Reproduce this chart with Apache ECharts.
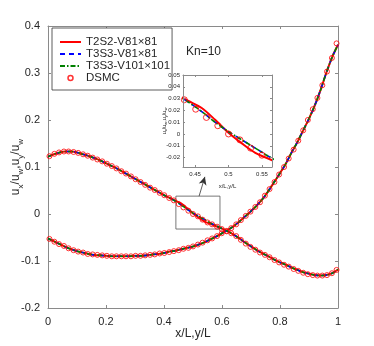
<!DOCTYPE html>
<html>
<head>
<meta charset="utf-8">
<script src="https://cdn.jsdelivr.net/npm/echarts@6/dist/echarts.min.js"></script>
<style>
  html, body { margin: 0; padding: 0; background: #fff; }
  #main { width: 374px; height: 346px; }
</style>
</head>
<body>
<div id="main"></div>
<script>
// sample positions of the model lines
const lineX = [0,0.02,0.04,0.06,0.08,0.10,0.12,0.14,0.16,0.18,0.20,0.22,0.24,0.26,0.28,0.30,0.32,0.34,0.36,0.38,0.40,
  0.42,0.44,0.46,0.48,0.50,0.52,0.54,0.56,0.58,0.60,0.62,0.64,0.66,0.68,0.70,0.72,0.74,0.76,0.78,0.80,
  0.82,0.84,0.86,0.88,0.90,0.92,0.94,0.96,0.98,1.00]
// u_x/u_w for T3S3 models (blue, green)
const uxT3 = [0.122,0.127,0.131,0.133,0.133,0.131,0.127,0.1235,0.119,0.114,0.108,0.102,0.096,0.089,0.082,0.075,0.068,0.061,0.054,0.047,0.040,
  0.034,0.027,0.019,0.010,0.002,-0.005,-0.012,-0.019,-0.025,-0.031,-0.037,-0.044,-0.052,-0.061,-0.069,-0.077,-0.084,-0.090,-0.097,-0.103,
  -0.108,-0.114,-0.119,-0.124,-0.127,-0.130,-0.131,-0.130,-0.126,-0.118]
// u_x/u_w for T2S2 model (red)
const uxT2 = [0.122,0.127,0.131,0.133,0.133,0.131,0.127,0.1235,0.119,0.114,0.108,0.102,0.096,0.089,0.082,0.075,0.068,0.061,0.054,0.047,0.040,
  0.034,0.028,0.022,0.012,0.001,-0.008,-0.016,-0.021,-0.026,-0.031,-0.037,-0.044,-0.052,-0.061,-0.069,-0.077,-0.084,-0.090,-0.097,-0.103,
  -0.108,-0.114,-0.119,-0.124,-0.127,-0.130,-0.131,-0.130,-0.126,-0.118]
// u_y/u_w (all models)
const uyAll = [-0.052,-0.058,-0.064,-0.070,-0.075,-0.079,-0.082,-0.085,-0.087,-0.088,-0.089,-0.090,-0.090,-0.090,-0.090,-0.089,-0.089,-0.088,-0.086,-0.085,-0.083,
  -0.080,-0.078,-0.075,-0.072,-0.069,-0.065,-0.060,-0.054,-0.048,-0.041,-0.034,-0.026,-0.016,-0.005,0.006,0.018,0.032,0.049,0.068,0.087,
  0.107,0.131,0.153,0.178,0.203,0.231,0.264,0.301,0.334,0.360]

// DSMC samples
const dsmcX = [0.005,0.022,0.038,0.055,0.071,0.088,0.104,0.121,0.137,0.154,0.170,0.187,0.203,0.220,0.236,0.253,0.269,0.286,0.302,0.319,
  0.335,0.352,0.368,0.385,0.401,0.418,0.434,0.451,0.467,0.484,0.500,0.517,0.533,0.550,0.566,0.583,0.599,0.616,0.632,0.649,
  0.665,0.682,0.698,0.715,0.731,0.748,0.764,0.781,0.797,0.814,0.830,0.847,0.863,0.880,0.896,0.913,0.929,0.946,0.962,0.979,0.995]
const dsmcUx = [0.123,0.128,0.131,0.133,0.133,0.132,0.130,0.127,0.124,0.120,0.116,0.112,0.107,0.102,0.097,0.091,0.086,0.080,0.074,0.068,
  0.062,0.056,0.051,0.045,0.040,0.034,0.029,0.021,0.014,0.007,0.000,-0.005,-0.012,-0.018,-0.022,-0.027,-0.032,-0.037,-0.041,-0.047,
  -0.055,-0.063,-0.070,-0.076,-0.082,-0.087,-0.092,-0.098,-0.103,-0.108,-0.112,-0.117,-0.121,-0.125,-0.128,-0.130,-0.131,-0.131,-0.130,-0.126,-0.119]
const dsmcUy = [-0.053,-0.059,-0.064,-0.068,-0.073,-0.077,-0.080,-0.082,-0.085,-0.086,-0.087,-0.088,-0.089,-0.090,-0.090,-0.090,-0.090,-0.090,-0.089,-0.089,
  -0.088,-0.087,-0.086,-0.084,-0.083,-0.081,-0.079,-0.077,-0.074,-0.072,-0.069,-0.065,-0.061,-0.056,-0.052,-0.047,-0.041,-0.036,-0.030,-0.022,
  -0.013,-0.004,0.005,0.015,0.025,0.039,0.053,0.068,0.084,0.100,0.118,0.137,0.156,0.178,0.200,0.223,0.247,0.274,0.303,0.332,0.363]

// zoom box and arrow (data coords)
const boxX = [0.441, 0.593]
const boxY = [-0.032, 0.038]
const arrowFrom = [0.521, 0.038]
const arrowTo = [0.541, 0.079]

const insetXTicks = [0.45, 0.5, 0.55]
const insetYTicks = [-0.02, -0.01, 0, 0.01, 0.02, 0.03, 0.04, 0.05]

const names = ['T2S2-V81×81', 'T3S3-V81×81', 'T3S3-V101×101', 'DSMC']

const zip = (xs, ys) => xs.map((x, i) => [x, ys[i]])

const axisGray = '#8a8a8a'
const textCol = '#262626'
const fontFam = '"Liberation Sans", Arial, Helvetica, sans-serif'

function axisBase(extra) {
  return Object.assign({
    axisLine: { show: true, onZero: false, lineStyle: { color: axisGray, width: 1 } },
    axisTick: { show: true, inside: true, length: 3, lineStyle: { color: axisGray } },
    splitLine: { show: false },
    axisLabel: { color: textCol, fontSize: 11, fontFamily: fontFam }
  }, extra)
}

function boxAxis(type, gridIndex, min, max, interval, customValues) {
  const pos = type === 'x' ? 'top' : 'right'
  const a = axisBase({ type: 'value', gridIndex, position: pos, min, max })
  if (interval) a.interval = interval
  a.axisLabel = { show: false }
  if (customValues) a.axisTick = Object.assign({}, a.axisTick, { length: 2, customValues })
  return a
}

const subRich = {
  n: { fontSize: 12, color: textCol, fontFamily: fontFam, lineHeight: 16, verticalAlign: 'bottom' },
  s: { fontSize: 8, color: textCol, fontFamily: fontFam, lineHeight: 10, verticalAlign: 'bottom', padding: [0, 0, -3, 0] }
}
const subRichSmall = {
  n: { fontSize: 5.5, color: textCol, fontFamily: fontFam, lineHeight: 7, verticalAlign: 'bottom' },
  s: { fontSize: 4, color: textCol, fontFamily: fontFam, lineHeight: 5, verticalAlign: 'bottom', padding: [0, 0, -1, 0] }
}
const yName = '{n|u}{s|x}{n|/u}{s|w}{n|,u}{s|y}{n|/u}{s|w}'

const lineSeries = (name, color, type, width, ux, uy, g) => [ux, uy].map(v => ({
  name, type: 'line', xAxisIndex: g * 2, yAxisIndex: g * 2,
  data: zip(lineX, v), smooth: 0.3, showSymbol: false, symbol: 'none',
  lineStyle: { color, width, type }, itemStyle: { color }, z: 3
}))

const dsmcSeries = (g) => [dsmcUx, dsmcUy].map(v => ({
  name: 'DSMC', type: 'scatter', xAxisIndex: g * 2, yAxisIndex: g * 2,
  data: zip(dsmcX, v), symbol: 'circle', symbolSize: g === 0 ? 5 : 6,
  itemStyle: { color: 'rgba(0,0,0,0)', borderColor: '#ff0000', borderWidth: 1 }, z: 5
}))

let series = []
for (const g of [0, 1]) {
  series = series.concat(
    lineSeries(names[0], '#ff0000', 'solid', 2, uxT2, uyAll, g),
    lineSeries(names[1], '#0000ff', [5, 4], 1.6, uxT3, uyAll, g),
    lineSeries(names[2], '#008000', [5, 2, 1.5, 2], 1.6, uxT3, uyAll, g),
    dsmcSeries(g)
  )
}
// zoom box and arrow on main plot
series.push({
  type: 'line', xAxisIndex: 0, yAxisIndex: 0, data: [], silent: true,
  markArea: {
    silent: true,
    itemStyle: { color: 'rgba(0,0,0,0)', borderColor: '#555', borderWidth: 0.8 },
    data: [[{ coord: [boxX[0], boxY[1]] }, { coord: [boxX[1], boxY[0]] }]]
  },
  markLine: {
    silent: true, symbol: ['none', 'arrow'], symbolSize: [6, 8],
    lineStyle: { color: '#333', width: 0.8, type: 'solid' }, label: { show: false },
    data: [[{ coord: arrowFrom }, { coord: arrowTo }]]
  }
})

const hiddenSymbol = { color: 'rgba(0,0,0,0)', borderColor: 'rgba(0,0,0,0)', borderWidth: 0 }

const chart = echarts.init(document.getElementById('main'), null, { renderer: 'canvas' })
chart.setOption({
  animation: false,
  backgroundColor: '#fff',
  title: {
    text: 'Kn=10', left: 181, top: 41,
    textStyle: { fontSize: 12, fontWeight: 'normal', color: textCol, fontFamily: fontFam }
  },
  legend: {
    data: names.map(n => n === 'DSMC'
      ? { name: n, icon: 'circle', itemStyle: { color: 'rgba(0,0,0,0)', borderColor: '#ff0000', borderWidth: 1.5 } }
      : { name: n, itemStyle: hiddenSymbol }),
    orient: 'vertical', left: 52, top: 28,
    itemWidth: 21, itemHeight: 5, itemGap: 0,
    padding: [8, 2, 6, 7],
    borderColor: '#333', borderWidth: 0.8, backgroundColor: '#fff',
    textStyle: { fontSize: 11.5, lineHeight: 11.5, height: 11.5, color: textCol, fontFamily: fontFam }
  },
  grid: [
    { left: 48, right: 36, top: 26, bottom: 38, containLabel: false, outerBoundsMode: 'none' },
    { left: 183, right: 102, top: 75, bottom: 179, containLabel: false, outerBoundsMode: 'none',
      show: true, backgroundColor: '#fff', borderWidth: 0, z: 1 }
  ],
  xAxis: [
    axisBase({
      type: 'value', gridIndex: 0, min: 0, max: 1, interval: 0.2,
      name: 'x/L,y/L', nameLocation: 'middle', nameGap: 20, nameMoveOverlap: false,
      nameTextStyle: { fontSize: 12, color: textCol, fontFamily: fontFam }
    }),
    boxAxis('x', 0, 0, 1, 0.2),
    axisBase({
      type: 'value', gridIndex: 1, min: 0.432, max: 0.565, z: 6,
      axisTick: { show: true, inside: true, length: 2, customValues: insetXTicks, lineStyle: { color: axisGray } },
      axisLabel: { fontSize: 6, color: textCol, fontFamily: fontFam, margin: 4, customValues: insetXTicks },
      name: 'x/L,y/L', nameLocation: 'middle', nameGap: 16, nameMoveOverlap: false,
      nameTextStyle: { fontSize: 6, color: textCol, fontFamily: fontFam }
    }),
    Object.assign(boxAxis('x', 1, 0.432, 0.565, null, insetXTicks), { z: 6 })
  ],
  yAxis: [
    axisBase({
      type: 'value', gridIndex: 0, min: -0.2, max: 0.4, interval: 0.1,
      name: yName, nameLocation: 'middle', nameGap: 26, nameRotate: 90, nameMoveOverlap: false,
      nameTextStyle: { rich: subRich }
    }),
    boxAxis('y', 0, -0.2, 0.4, 0.1),
    axisBase({
      type: 'value', gridIndex: 1, min: -0.028, max: 0.05, z: 6,
      axisTick: { show: true, inside: true, length: 2, customValues: insetYTicks, lineStyle: { color: axisGray } },
      axisLabel: { fontSize: 6, color: textCol, fontFamily: fontFam, margin: 3, customValues: insetYTicks },
      name: yName, nameLocation: 'middle', nameGap: 16, nameRotate: 90, nameMoveOverlap: false,
      nameTextStyle: { rich: subRichSmall }
    }),
    Object.assign(boxAxis('y', 1, -0.028, 0.05, null, insetYTicks), { z: 6 })
  ],
  series
})
</script>
</body>
</html>
